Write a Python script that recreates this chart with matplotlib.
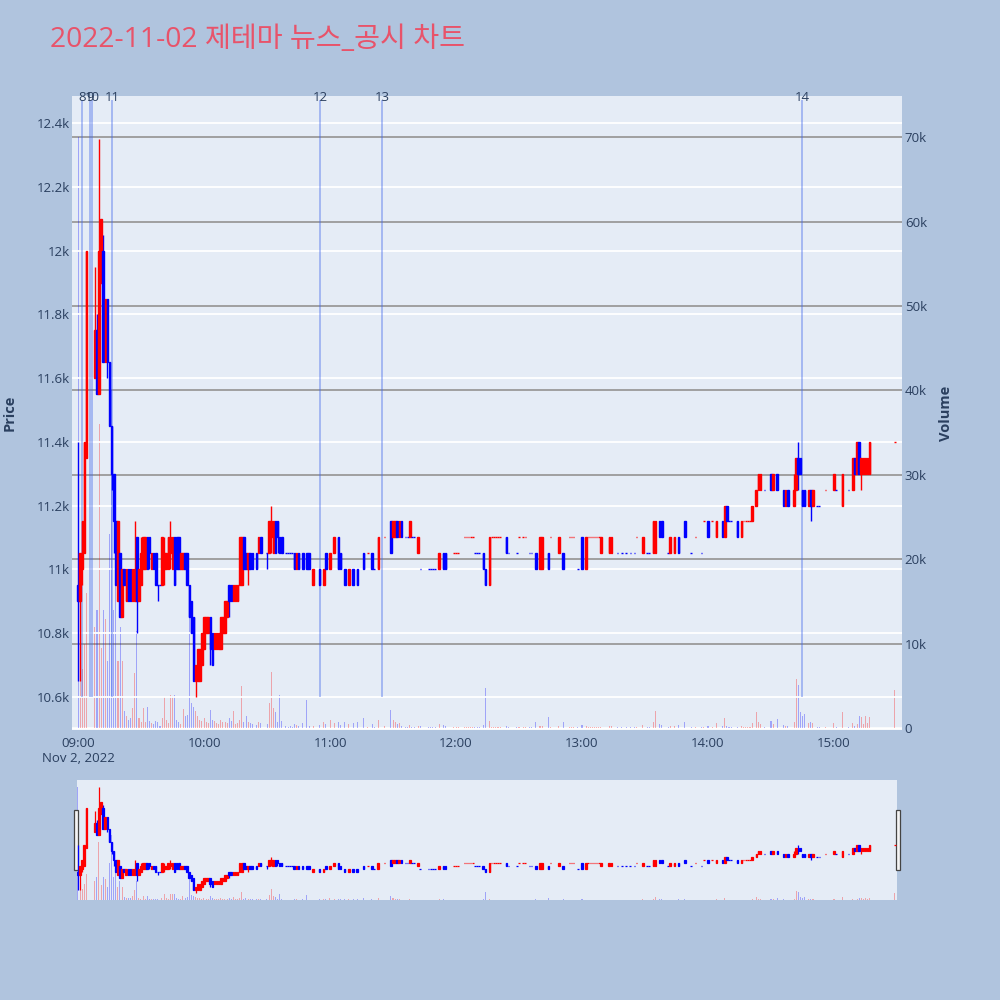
import numpy as np
import matplotlib.pyplot as plt
import matplotlib.transforms as mtransforms
from matplotlib.patches import Rectangle

plt.rcParams['font.family'] = ['Open Sans', 'Noto Sans CJK KR', 'DejaVu Sans']

title = '2022-11-02 제테마 뉴스_공시 차트'

# minute candles, minutes after 09:00
t_min = [0, 1, 2, 3, 4, 8, 9, 10, 11, 12,
         13, 14, 15, 16, 17, 18, 19, 20, 21, 22,
         23, 24, 25, 26, 27, 28, 29, 30, 31, 32,
         33, 34, 35, 36, 37, 38, 39, 40, 41, 42,
         43, 44, 45, 46, 47, 48, 49, 50, 51, 52,
         53, 54, 55, 56, 57, 58, 59, 60, 61, 62,
         63, 64, 65, 66, 67, 68, 69, 70, 71, 72,
         73, 74, 75, 76, 77, 78, 79, 80, 81, 82,
         83, 85, 86, 87, 90, 91, 92, 93, 94, 95,
         96, 97, 99, 100, 101, 102, 103, 104, 105, 107,
         109, 110, 112, 115, 117, 118, 120, 122, 124, 125,
         127, 129, 131, 133, 136, 138, 140, 141, 143, 146,
         149, 150, 151, 152, 153, 154, 156, 157, 158, 159,
         160, 162, 163, 167, 168, 169, 170, 172, 174, 175,
         179, 180, 181, 184, 185, 186, 187, 188, 189, 190,
         191, 193, 194, 196, 197, 198, 199, 200, 201, 204,
         205, 209, 210, 212, 213, 215, 216, 218, 220, 221,
         224, 225, 229, 231, 234, 235, 236, 238, 240, 242,
         243, 244, 245, 246, 247, 248, 249, 253, 254, 257,
         259, 261, 263, 265, 266, 269, 271, 272, 274, 275,
         277, 278, 281, 282, 284, 286, 289, 292, 294, 297,
         298, 300, 302, 304, 307, 308, 309, 310, 311, 314,
         316, 317, 318, 319, 320, 321, 323, 324, 325, 327,
         330, 331, 333, 336, 337, 338, 341, 342, 343, 344,
         345, 346, 348, 349, 350, 352, 353, 356, 360, 361,
         364, 367, 369, 370, 371, 372, 373, 374, 375, 376,
         377, 389]

open_p = [10950, 10900, 11000, 11050, 11350, 11600, 11750, 11550, 11900, 12000,
          11650, 11850, 11650, 11450, 11300, 11150, 10900, 11050, 10850, 11000,
          10900, 11000, 11000, 10900, 10900, 11100, 10900, 10950, 11000, 11000,
          11100, 11100, 11000, 11050, 11050, 10950, 10950, 10950, 11000, 11000,
          11000, 11050, 11000, 11100, 11100, 11100, 11000, 11000, 11050, 11050,
          10950, 10900, 10850, 10650, 10650, 10650, 10700, 10750, 10800, 10800,
          10850, 10800, 10750, 10750, 10750, 10750, 10800, 10800, 10850, 10950,
          10950, 10900, 10900, 10900, 10950, 10950, 11100, 11050, 11000, 11050,
          11050, 11050, 11050, 11100, 11050, 11050, 11100, 11050, 11150, 11150,
          11100, 11100, 11050, 11050, 11050, 11050, 11050, 11000, 11050, 11050,
          11050, 11050, 10950, 11000, 10950, 11050, 11000, 11050, 11100, 11050,
          11000, 10950, 11000, 11000, 11050, 11050, 11050, 11000, 11000, 11100,
          11150, 11100, 11100, 11150, 11100, 11150, 11100, 11100, 11100, 11100,
          11100, 11050, 11000, 11000, 11000, 11000, 11000, 11000, 11050, 11050,
          11050, 11050, 11050, 11100, 11100, 11100, 11100, 11100, 11050, 11050,
          11050, 11050, 11000, 10950, 11100, 11100, 11100, 11100, 11100, 11100,
          11050, 11050, 11100, 11100, 11100, 11050, 11050, 11050, 11000, 11000,
          11050, 11100, 11050, 11050, 11100, 11100, 11100, 11000, 11100, 11000,
          11100, 11100, 11100, 11100, 11100, 11100, 11050, 11050, 11050, 11050,
          11050, 11050, 11050, 11050, 11100, 11050, 11050, 11050, 11050, 11050,
          11150, 11150, 11050, 11050, 11050, 11100, 11150, 11050, 11100, 11050,
          11150, 11150, 11150, 11100, 11150, 11100, 11200, 11150, 11150, 11150,
          11100, 11150, 11150, 11150, 11150, 11150, 11200, 11250, 11250, 11250,
          11300, 11250, 11300, 11250, 11200, 11250, 11200, 11250, 11350, 11350,
          11250, 11250, 11200, 11250, 11200, 11200, 11200, 11250, 11250, 11250,
          11200, 11250, 11250, 11350, 11300, 11400, 11300, 11300, 11300, 11300,
          11300, 11400]

high_p = [11400, 11050, 11150, 11400, 12000, 11950, 11800, 12350, 12100, 12050,
          11850, 11850, 11650, 11450, 11300, 11150, 11150, 11050, 11000, 11000,
          11000, 11000, 11000, 11000, 11150, 11100, 11000, 11100, 11100, 11100,
          11100, 11100, 11050, 11050, 11050, 10950, 10950, 11100, 11100, 11050,
          11100, 11150, 11100, 11100, 11100, 11100, 11050, 11050, 11050, 11050,
          10950, 10900, 10850, 10700, 10750, 10750, 10800, 10850, 10850, 10850,
          10850, 10800, 10800, 10800, 10800, 10850, 10850, 10900, 10900, 10950,
          10950, 10950, 10950, 10950, 11100, 11100, 11100, 11050, 11050, 11050,
          11050, 11050, 11100, 11100, 11050, 11150, 11200, 11150, 11150, 11150,
          11100, 11100, 11050, 11050, 11050, 11050, 11050, 11050, 11050, 11050,
          11050, 11050, 11000, 11000, 11000, 11050, 11050, 11100, 11100, 11050,
          11000, 11000, 11000, 11000, 11050, 11050, 11050, 11000, 11100, 11100,
          11150, 11150, 11150, 11150, 11150, 11150, 11100, 11100, 11150, 11100,
          11100, 11100, 11000, 11000, 11000, 11000, 11000, 11050, 11050, 11050,
          11050, 11050, 11050, 11100, 11100, 11100, 11100, 11100, 11050, 11050,
          11050, 11050, 11000, 11100, 11100, 11100, 11100, 11100, 11100, 11100,
          11050, 11050, 11100, 11100, 11100, 11050, 11050, 11050, 11100, 11100,
          11050, 11100, 11100, 11050, 11100, 11100, 11100, 11000, 11100, 11100,
          11100, 11100, 11100, 11100, 11100, 11100, 11100, 11100, 11100, 11050,
          11050, 11050, 11050, 11050, 11100, 11100, 11050, 11050, 11150, 11150,
          11150, 11150, 11050, 11100, 11100, 11100, 11150, 11050, 11100, 11050,
          11150, 11150, 11150, 11150, 11150, 11200, 11200, 11150, 11150, 11150,
          11150, 11150, 11150, 11150, 11150, 11200, 11250, 11300, 11300, 11250,
          11300, 11300, 11300, 11250, 11250, 11250, 11300, 11350, 11400, 11350,
          11250, 11250, 11250, 11250, 11250, 11200, 11200, 11250, 11300, 11250,
          11300, 11250, 11350, 11350, 11400, 11400, 11350, 11350, 11350, 11350,
          11400, 11400]

low_p = [10650, 10650, 10950, 11050, 11350, 11600, 11550, 11550, 11900, 11650,
         11650, 11600, 11450, 11250, 11050, 10950, 10900, 10850, 10850, 10950,
         10900, 10900, 10900, 10900, 10900, 10800, 10900, 10950, 11000, 11000,
         11000, 11000, 11000, 11000, 10950, 10900, 10950, 10950, 10950, 11000,
         11000, 11000, 11000, 10950, 11000, 11000, 11000, 11000, 11000, 10950,
         10850, 10800, 10650, 10600, 10650, 10650, 10700, 10750, 10800, 10800,
         10700, 10700, 10750, 10750, 10750, 10750, 10800, 10800, 10850, 10850,
         10900, 10900, 10900, 10900, 10950, 10950, 11000, 11000, 10950, 11000,
         11000, 11000, 11050, 11050, 11000, 11050, 11050, 11050, 11050, 11050,
         11050, 11050, 11050, 11050, 11050, 11050, 11000, 11000, 11000, 11000,
         11000, 11000, 10950, 10950, 10950, 11000, 11000, 11050, 11000, 11000,
         10950, 10950, 10950, 10950, 11000, 11050, 11000, 11000, 11000, 11100,
         11050, 11100, 11100, 11100, 11100, 11100, 11100, 11100, 11100, 11100,
         11100, 11050, 11000, 11000, 11000, 11000, 11000, 11000, 11000, 11000,
         11050, 11050, 11050, 11100, 11100, 11100, 11100, 11100, 11050, 11050,
         11050, 11000, 10950, 10950, 11100, 11100, 11100, 11100, 11100, 11050,
         11050, 11050, 11100, 11100, 11100, 11050, 11050, 11000, 11000, 11000,
         11000, 11100, 11050, 11000, 11100, 11100, 11100, 11000, 11000, 11000,
         11100, 11100, 11100, 11100, 11100, 11100, 11050, 11050, 11050, 11050,
         11050, 11050, 11050, 11050, 11100, 11050, 11050, 11050, 11050, 11050,
         11100, 11100, 11050, 11050, 11050, 11050, 11100, 11050, 11100, 11050,
         11150, 11100, 11150, 11100, 11100, 11100, 11150, 11150, 11150, 11100,
         11100, 11150, 11150, 11150, 11150, 11150, 11200, 11250, 11250, 11250,
         11250, 11250, 11250, 11200, 11200, 11200, 11200, 11250, 11250, 11300,
         11200, 11200, 11200, 11150, 11200, 11200, 11200, 11250, 11250, 11250,
         11200, 11250, 11250, 11300, 11300, 11300, 11250, 11300, 11300, 11300,
         11300, 11400]

close_p = [10900, 11050, 11150, 11400, 12000, 11750, 11550, 12000, 12100, 11650,
           11850, 11650, 11450, 11300, 11150, 10950, 11150, 10850, 11000, 10950,
           11000, 10900, 10900, 11000, 11000, 10900, 11000, 11050, 11100, 11100,
           11000, 11050, 11050, 11000, 10950, 10950, 10950, 11100, 11050, 11050,
           11100, 11100, 11100, 10950, 11000, 11000, 11050, 11050, 11000, 10950,
           10850, 10800, 10650, 10700, 10750, 10750, 10800, 10850, 10850, 10850,
           10750, 10700, 10800, 10800, 10800, 10850, 10850, 10900, 10900, 10900,
           10900, 10950, 10950, 10950, 11100, 11100, 11000, 11000, 11050, 11000,
           11000, 11000, 11100, 11050, 11050, 11150, 11150, 11150, 11050, 11100,
           11050, 11050, 11050, 11050, 11050, 11050, 11000, 11050, 11000, 11000,
           11000, 11000, 11000, 10950, 11000, 11000, 11050, 11100, 11000, 11000,
           10950, 11000, 10950, 10950, 11000, 11050, 11000, 11000, 11100, 11100,
           11050, 11150, 11150, 11100, 11150, 11100, 11100, 11100, 11150, 11100,
           11100, 11100, 11000, 11000, 11000, 11000, 11000, 11050, 11000, 11000,
           11050, 11050, 11050, 11100, 11100, 11100, 11100, 11100, 11050, 11050,
           11050, 11000, 10950, 11100, 11100, 11100, 11100, 11100, 11100, 11050,
           11050, 11050, 11100, 11100, 11100, 11050, 11050, 11000, 11100, 11100,
           11000, 11100, 11100, 11000, 11100, 11100, 11100, 11000, 11000, 11100,
           11100, 11100, 11100, 11100, 11100, 11100, 11100, 11100, 11100, 11050,
           11050, 11050, 11050, 11050, 11100, 11100, 11050, 11050, 11150, 11150,
           11100, 11100, 11050, 11100, 11100, 11050, 11100, 11050, 11100, 11050,
           11150, 11100, 11150, 11150, 11100, 11200, 11150, 11150, 11150, 11100,
           11150, 11150, 11150, 11150, 11150, 11200, 11250, 11300, 11300, 11250,
           11250, 11300, 11250, 11200, 11250, 11200, 11250, 11350, 11300, 11300,
           11200, 11200, 11250, 11200, 11250, 11200, 11200, 11250, 11300, 11250,
           11300, 11250, 11350, 11300, 11400, 11300, 11350, 11350, 11350, 11350,
           11400, 11400]

volume = [70000, 9800, 7000, 10000, 16000, 12000, 14000, 36000, 9500, 14000,
          13000, 8000, 23000, 40000, 14000, 19800, 8000, 12000, 8000, 2100,
          1500, 1000, 1200, 2400, 6500, 11500, 1200, 800, 2400, 700,
          2500, 900, 600, 500, 900, 700, 300, 1200, 3700, 1000,
          600, 4000, 3800, 4000, 1000, 800, 500, 2300, 1500, 1600,
          15000, 3000, 2500, 2000, 1500, 1000, 900, 1200, 800, 600,
          2200, 1000, 900, 600, 500, 1000, 800, 700, 600, 1200,
          900, 2000, 500, 600, 1000, 5000, 800, 1500, 700, 600,
          500, 400, 800, 600, 500, 3000, 6700, 2400, 1900, 800,
          4000, 900, 300, 200, 300, 200, 500, 400, 300, 600,
          3300, 300, 300, 400, 700, 500, 1000, 600, 800, 400,
          800, 500, 600, 700, 1200, 200, 500, 200, 1000, 300,
          2200, 1000, 800, 500, 600, 300, 200, 200, 400, 200,
          200, 300, 300, 200, 200, 200, 200, 500, 400, 300,
          200, 200, 200, 200, 200, 200, 200, 200, 200, 200,
          200, 400, 4800, 900, 200, 200, 200, 200, 200, 300,
          200, 200, 200, 200, 200, 200, 200, 800, 300, 300,
          1300, 200, 300, 800, 200, 200, 200, 200, 400, 300,
          200, 200, 200, 200, 200, 200, 200, 300, 300, 200,
          200, 200, 200, 200, 200, 400, 200, 200, 800, 2000,
          500, 400, 200, 300, 300, 400, 800, 200, 200, 200,
          200, 300, 200, 600, 300, 1200, 300, 200, 200, 200,
          300, 200, 200, 200, 200, 600, 1900, 800, 500, 200,
          900, 500, 1100, 400, 300, 300, 700, 5800, 5100, 1900,
          1500, 1700, 600, 800, 600, 200, 200, 200, 600, 200,
          1900, 200, 600, 300, 500, 1400, 1300, 500, 1400, 600,
          1300, 4500]

# news / disclosure markers
news_min = [1.7, 5.9, 6.6, 16.1, 115.2, 144.8, 344.8]
news_lab = ['8', '9', '10', '11', '12', '13', '14']

price_ticks = [10600, 10800, 11000, 11200, 11400, 11600, 11800, 12000, 12200, 12400]
price_labels = ['10.6k', '10.8k', '11k', '11.2k', '11.4k', '11.6k', '11.8k', '12k', '12.2k', '12.4k']
vol_ticks = [0, 10000, 20000, 30000, 40000, 50000, 60000, 70000]
vol_labels = ['0', '10k', '20k', '30k', '40k', '50k', '60k', '70k']
time_ticks = [0, 60, 120, 180, 240, 300, 360]
time_labels = ['09:00\nNov 2, 2022', '10:00', '11:00', '12:00', '13:00', '14:00', '15:00']

t = np.array(t_min, dtype=float)
o = np.array(open_p, dtype=float)
h = np.array(high_p, dtype=float)
l = np.array(low_p, dtype=float)
c = np.array(close_p, dtype=float)
v = np.array(volume, dtype=float)

# increasing / decreasing the way plotly decides it
inc = []
prev = None
up = True
for oo, cc in zip(o, c):
    if cc != oo:
        up = cc > oo
    elif prev is not None and cc != prev:
        up = cc > prev
    inc.append(up)
    prev = cc
inc = np.array(inc)
col = np.where(inc, '#ff0000', '#0000ff')

BG = '#B0C4DE'
PLOT = '#E5ECF6'
TXT = '#2a3f5f'

fig = plt.figure(figsize=(10, 10), dpi=100, facecolor=BG)


def draw(ax_p, ax_v, lw):
    ax_v.bar(t, v, width=0.5, color=col, alpha=0.3, linewidth=0)
    ax_p.vlines(t, l, h, colors=col, lw=lw, zorder=3)
    ax_p.bar(t, np.abs(c - o), bottom=np.minimum(o, c), width=0.75,
             color=col, edgecolor=col, linewidth=lw, zorder=3)


# main chart
ax_p = fig.add_axes([0.072, 0.270, 0.830, 0.634])
ax_v = ax_p.twinx()
ax_p.set_zorder(ax_v.get_zorder() + 1)
ax_p.patch.set_visible(False)
ax_v.patch.set_visible(True)
ax_v.patch.set_facecolor(PLOT)

for vt in vol_ticks[1:]:
    ax_v.axhline(vt, color='#9a9a9a', lw=1.3, zorder=0.5)
ax_v.axhline(0, color='white', lw=1.8, zorder=0.5)
ax_p.grid(axis='y', color='white', lw=1.3)
ax_p.set_axisbelow(True)

ax_p.vlines(news_min, 10600, 12473, color=(0.25, 0.4, 0.92), alpha=0.5, lw=1.1, zorder=1)
draw(ax_p, ax_v, 1.0)

trans = mtransforms.blended_transform_factory(ax_p.transData, ax_p.transAxes)
for x, lab in zip(news_min, news_lab):
    ax_p.text(x, 0.9984, lab, transform=trans, ha='center', va='center',
              fontsize=9.5, color=TXT, clip_on=False)

ax_p.set_xlim(-2.9, 392.4)
ax_p.set_ylim(10495, 12486)
ax_v.set_ylim(-200, 74870)

ax_p.set_yticks(price_ticks, price_labels)
ax_v.set_yticks(vol_ticks, vol_labels)
ax_p.set_xticks(time_ticks, time_labels)
ax_p.tick_params(axis='y', length=0, pad=1.5, labelsize=9.5, labelcolor=TXT)
ax_v.tick_params(axis='y', length=0, pad=2, labelsize=9.5, labelcolor=TXT)
ax_p.tick_params(axis='x', length=0, pad=5, labelsize=9.5, labelcolor=TXT)
for a in (ax_p, ax_v):
    for s in a.spines.values():
        s.set_visible(False)

fig.text(0.010, 0.587, 'Price', rotation=90, fontweight='bold', fontsize=10.5,
         color=TXT, ha='center', va='center')
fig.text(0.946, 0.587, 'Volume', rotation=90, fontweight='bold', fontsize=10.5,
         color=TXT, ha='center', va='center')
fig.text(0.050, 0.960, title, fontsize=20.3, color='#E8536A', ha='left', va='center')

# range slider
sl_v = fig.add_axes([0.0767, 0.100, 0.8203, 0.120])
sl_p = sl_v.twinx()
sl_p.set_zorder(sl_v.get_zorder() + 1)
sl_p.patch.set_visible(False)
sl_v.patch.set_visible(True)
sl_v.patch.set_facecolor(PLOT)
draw(sl_p, sl_v, 0.9)
sl_p.set_xlim(-0.6, 390)
sl_p.set_ylim(10484, 12466)
sl_v.set_ylim(0, 74300)
for a in (sl_p, sl_v):
    a.set_xticks([])
    a.set_yticks([])
    for s in a.spines.values():
        s.set_visible(False)

for xh in (0.0737, 0.8960):
    fig.add_artist(Rectangle((xh, 0.130), 0.0038, 0.060, transform=fig.transFigure,
                             facecolor='#f4f4f4', edgecolor='#444444', lw=0.9))

fig.savefig('out.png', dpi=100, facecolor=BG)
